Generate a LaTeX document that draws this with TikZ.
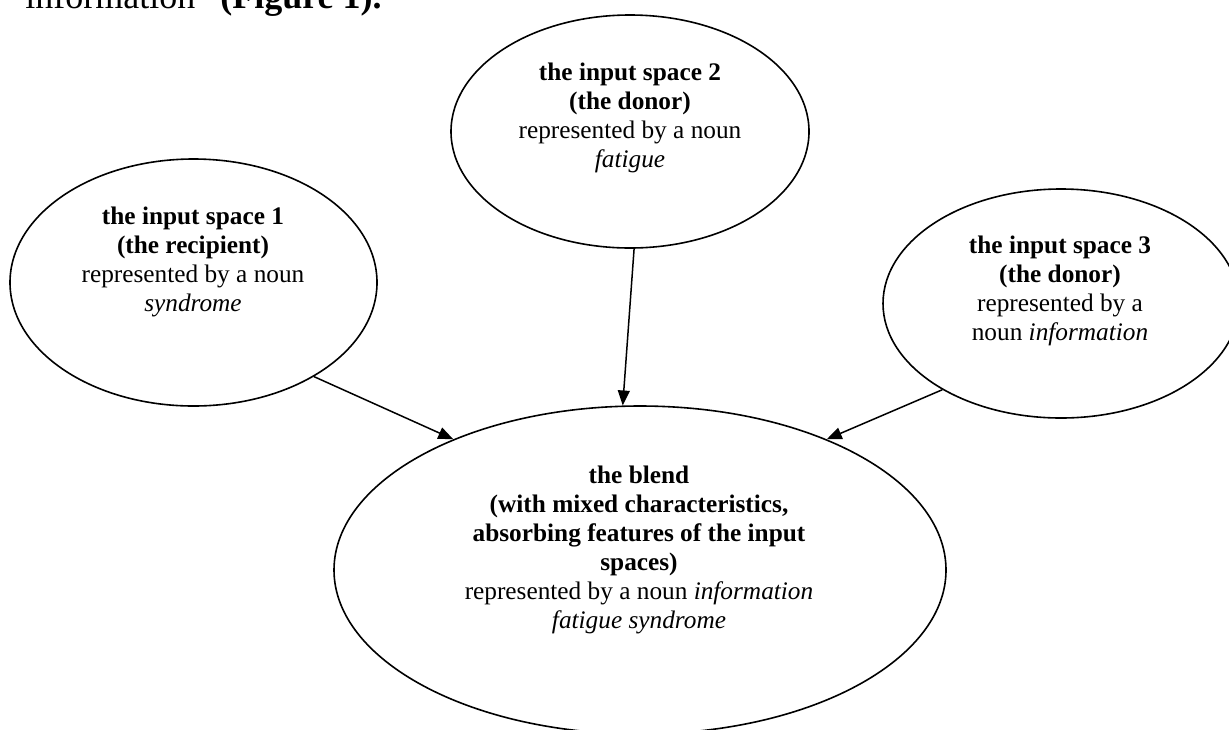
\documentclass[tikz,border=0pt]{standalone}
\usepackage{fontspec}
\setmainfont{Liberation Serif}
\usetikzlibrary{shapes.geometric,arrows.meta}
\begin{document}
\begin{tikzpicture}[x=0.5pt,y=-0.5pt,
  space/.style={draw, ellipse, line width=0.8pt, inner sep=0pt},
  txt/.style={align=center, font=\fontsize{12.65}{14.5}\selectfont, inner sep=0pt},
  link/.style={line width=0.75pt, -{Triangle[length=7.5pt,width=6pt]}}]
\useasboundingbox (0,0) rectangle (1229,729);
\clip (0,0) rectangle (1229,729);
\node[font=\fontsize{18}{21}\selectfont, anchor=base west, inner sep=0pt] (head) at (25,8) {information” \textbf{(Figure 1).}};
% ellipses
\node[space, minimum width=183.5pt, minimum height=123.5pt] (e1) at (193.5,282.5) {};
\node[space, minimum width=179pt, minimum height=116.5pt] (e2) at (630,131.5) {};
\node[space, minimum width=178pt, minimum height=114.5pt] (e3) at (1061,303.5) {};
\node[space, minimum width=306pt, minimum height=164pt] (blend) at (640,570) {};
% texts
\node[txt] (t1) at (193,262) {\textbf{the input space 1}\\ \textbf{(the recipient)}\\ represented by a noun\\ \textit{syndrome}};
\node[txt] (t2) at (630,118) {\textbf{the input space 2}\\ \textbf{(the donor)}\\ represented by a noun\\ \textit{fatigue}};
\node[txt] (t3) at (1060,291) {\textbf{the input space 3}\\ \textbf{(the donor)}\\ represented by a\\ noun \textit{information}};
\node[txt] (tb) at (639,550) {\textbf{the blend}\\ \textbf{(with mixed characteristics,}\\ \textbf{absorbing features of the input}\\ \textbf{spaces)}\\ represented by a noun \textit{information}\\ \textit{fatigue syndrome}};
% connectors
\draw[link] (e1.-38.6) -- (blend.145.2);
\draw[link] (e2.-88) -- (blend.96.6);
\draw[link] (e3.216.9) -- (blend.35.7);
\end{tikzpicture}
\end{document}
